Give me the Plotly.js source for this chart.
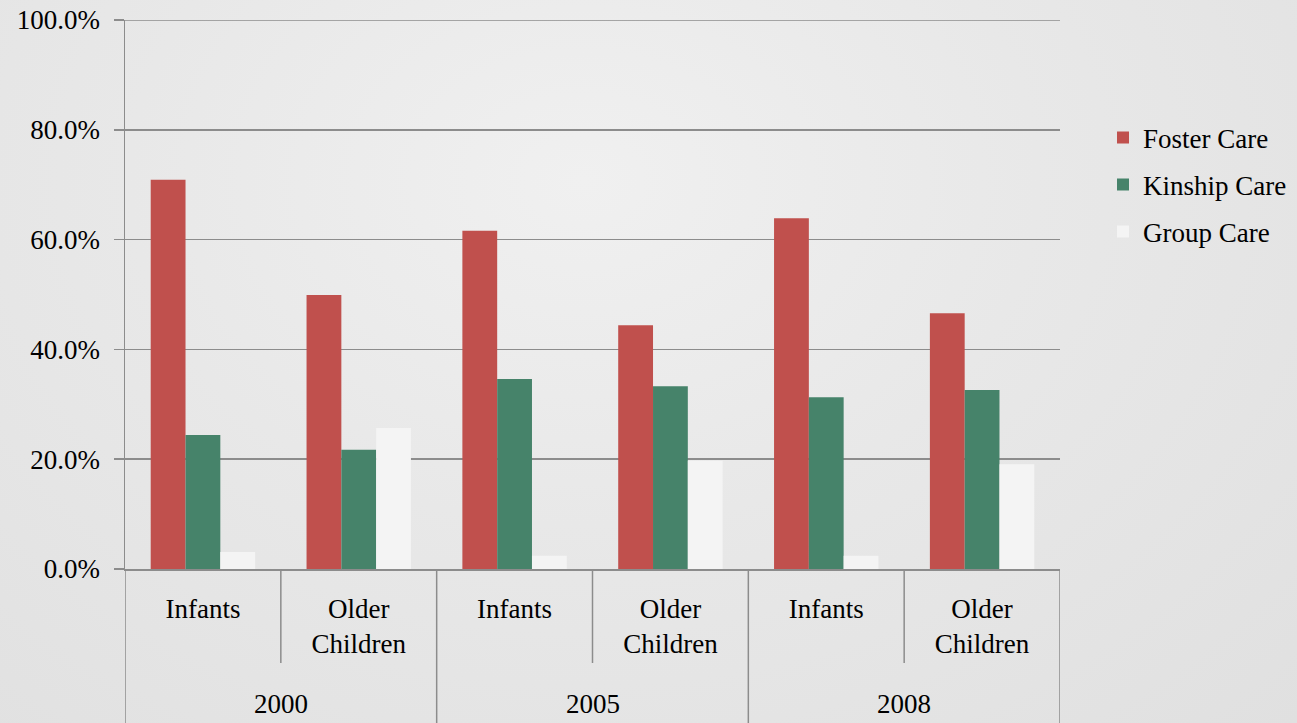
<!DOCTYPE html>
<html>
<head>
<meta charset="utf-8">
<script src="https://cdn.plot.ly/plotly-3.0.1.min.js"></script>
<style>
html,body{margin:0;padding:0;}
body{width:1297px;height:723px;background:radial-gradient(ellipse at 45% 25%, #f0f0f0 0%, #e8e8e8 45%, #e0e0e0 100%);}
#chart{width:1297px;height:723px;}
</style>
</head>
<body>
<div id="chart"></div>
<script>
const years = ['2000','2000','2005','2005','2008','2008'];
const groups = ['Infants','Older<br>Children','Infants','Older<br>Children','Infants','Older<br>Children'];
const seriesNames = ['Foster Care','Kinship Care','Group Care'];
const fosterCare = [70.9, 49.9, 61.6, 44.4, 63.9, 46.6];
const kinshipCare = [24.4, 21.7, 34.6, 33.3, 31.3, 32.6];
const groupCare = [3.1, 25.7, 2.4, 19.7, 2.4, 19.1];
const yTickVals = [0, 20, 40, 60, 80, 100];
const yTickLabels = ['0.0%', '20.0%', '40.0%', '60.0%', '80.0%', '100.0%'];
const colors = ['#c0504d','#46836a','#f4f4f4'];

const font = 'Liberation Serif, Times New Roman, serif';
const idx = groups.map((_, i) => i);
const allValues = [fosterCare, kinshipCare, groupCare];
const traces = allValues.map((vals, i) => ({
  type: 'bar',
  name: seriesNames[i],
  legendgroup: 'g' + i,
  x: idx,
  y: vals,
  marker: {color: colors[i], line: {width: 0}},
  hoverinfo: 'none'
}));

// axis decoration: boundaries between categories and year groups
const lineStyle = {color: '#8c8c8c', width: 1.5};
const plotH = 723 - 20 - 154;
const shapes = [];
const annotations = [];
for (let i = 0; i <= idx.length; i++) {
  const isYearEdge = i === 0 || i === idx.length || years[i] !== years[i - 1];
  shapes.push({
    type: 'line', xref: 'x', yref: 'paper',
    x0: i - 0.5, x1: i - 0.5,
    y0: 0, y1: isYearEdge ? -154 / plotH : -94 / plotH,
    line: lineStyle
  });
}
// top gridline (at the upper edge of the range)
const yMax = yTickVals[yTickVals.length - 1];
shapes.push({
  type: 'line', xref: 'paper', yref: 'y', x0: 0, x1: 1, y0: yMax, y1: yMax,
  line: lineStyle, layer: 'below'
});
const uniqueYears = [...new Set(years)];
uniqueYears.forEach(y => {
  const pos = idx.filter(i => years[i] === y);
  const mid = pos.reduce((a, b) => a + b, 0) / pos.length;
  annotations.push({
    xref: 'x', yref: 'paper', x: mid, y: -(704 - 569) / plotH,
    text: y, showarrow: false, yanchor: 'middle',
    font: {family: font, size: 27, color: '#000'}
  });
});

const layout = {
  width: 1297, height: 723,
  margin: {l: 125, r: 237, t: 20, b: 154, autoexpand: false},
  paper_bgcolor: 'rgba(0,0,0,0)',
  plot_bgcolor: 'rgba(0,0,0,0)',
  barmode: 'group',
  bargap: 0.33,
  bargroupgap: 0,
  font: {family: font, size: 27, color: '#000'},
  showlegend: true,
  legend: {
    x: 1.046, xanchor: 'left', y: 0.83, yanchor: 'top',
    bgcolor: 'rgba(0,0,0,0)',
    font: {family: font, size: 27},
    tracegroupgap: 9,
    traceorder: 'grouped',
    itemwidth: 30
  },
  xaxis: {
    range: [-0.5, idx.length - 0.5],
    tickmode: 'array', tickvals: idx, ticktext: groups,
    showline: true, linecolor: '#8c8c8c', linewidth: 1.5,
    ticks: '', ticklabelstandoff: 15,
    tickfont: {family: font, size: 27},
    showgrid: false, zeroline: false
  },
  yaxis: {
    range: [0, yMax],
    tickmode: 'array', tickvals: yTickVals, ticktext: yTickLabels,
    showline: true, linecolor: '#8c8c8c', linewidth: 1.5,
    ticks: 'outside', ticklen: 10, tickcolor: '#8c8c8c', tickwidth: 1.5,
    ticklabelstandoff: 8,
    showgrid: true, gridcolor: '#8c8c8c', gridwidth: 1.5,
    zeroline: false,
    tickfont: {family: font, size: 27}
  },
  shapes: shapes,
  annotations: annotations
};

Plotly.newPlot('chart', traces, layout, {displayModeBar: false, staticPlot: true});
</script>
</body>
</html>
